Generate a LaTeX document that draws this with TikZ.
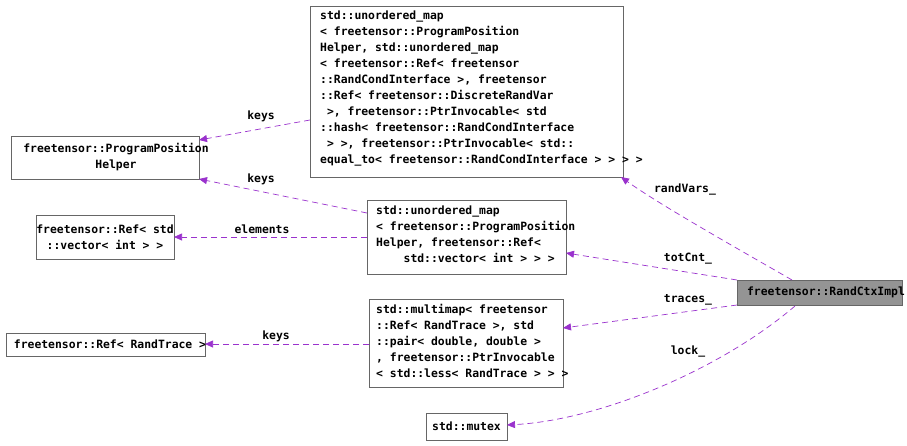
\documentclass[tikz,border=0pt]{standalone}
\usepackage{fontspec}
\setmonofont{DejaVu Sans Mono}
\usetikzlibrary{arrows.meta}
\definecolor{edge}{HTML}{9A32CD}
\begin{document}
\begin{tikzpicture}[x=1pt,y=-1pt,
  every node/.style={font=\ttfamily\bfseries\fontsize{11.4}{16}\selectfont,inner sep=0pt},
  box/.style={draw=black!60,line width=0.6pt},
  lbl/.style={text=black},
  rel/.style={draw=edge,dashed,dash pattern=on 6pt off 4pt,line width=0.7pt,-{Triangle[length=8pt,width=7pt]}}]
\useasboundingbox (0,0) rectangle (907,445);
\fill[white] (0,0) rectangle (907,445);
% boxes
\draw[box] (310,6) rectangle (623,177);
\coordinate (top) at (310,6);
\node[anchor=north west,align=left] (toptxt) at (320,11) {std::unordered\_map\\< freetensor::ProgramPosition\\Helper, std::unordered\_map\\< freetensor::Ref< freetensor\\::RandCondInterface >, freetensor\\::Ref< freetensor::DiscreteRandVar\\ \ >, freetensor::PtrInvocable< std\\::hash< freetensor::RandCondInterface\\ \ > >, freetensor::PtrInvocable< std::\\equal\_to< freetensor::RandCondInterface > > > >};
\node[box,minimum width=188pt,minimum height=43pt] (pph) at (105,157.5) {};
\node[align=center] at (116,157.5) {freetensor::ProgramPosition\\Helper};
\node[box,minimum width=138pt,minimum height=44pt,align=center] (refv) at (105,237) {freetensor::Ref< std\\::vector< int > >};
\node[box,minimum width=199pt,minimum height=74pt] (um) at (466.5,237) {};
\node[anchor=north west,align=left] at (376,206) {std::unordered\_map\\< freetensor::ProgramPosition\\Helper, freetensor::Ref<\\\ \ \ \ std::vector< int > > >};
\node[box,minimum width=199pt,minimum height=23pt] (rt) at (105.5,344.5) {};
\node at (110,344.5) {freetensor::Ref< RandTrace >};
\node[box,minimum width=194pt,minimum height=88pt] (mm) at (466,343) {};
\node[anchor=north west,align=left] at (376,304) {std::multimap< freetensor\\::Ref< RandTrace >, std\\::pair< double, double >\\, freetensor::PtrInvocable\\< std::less< RandTrace > > >};
\node[box,minimum width=81pt,minimum height=27pt] (mx) at (466.5,426.5) {std::mutex};
\node[box,fill=black!42,minimum width=165pt,minimum height=25pt] (rc) at (819.5,292.5) {};
\node at (826,292.5) {freetensor::RandCtxImpl};
% edges
\draw[rel] (792,280) .. controls (740,250) and (660,205) .. (621,177);
\node[lbl] at (685,190) {randVars\_};
\draw[rel] (737,280) -- (566,253);
\node[lbl] at (688,259) {totCnt\_};
\draw[rel] (737,305) -- (563,328);
\node[lbl] at (688,300) {traces\_};
\draw[rel] (795,306) .. controls (720,370) and (600,420) .. (507,425);
\node[lbl] at (688,352) {lock\_};
\draw[rel] (310,120) -- (199,140);
\node[lbl] at (261,116) {keys};
\draw[rel] (367,213) -- (199,179);
\node[lbl] at (261,179) {keys};
\draw[rel] (367,237) -- (174,237);
\node[lbl] at (262,229) {elements};
\draw[rel] (369,344) -- (205,344);
\node[lbl] at (276,336) {keys};
\end{tikzpicture}
\end{document}
